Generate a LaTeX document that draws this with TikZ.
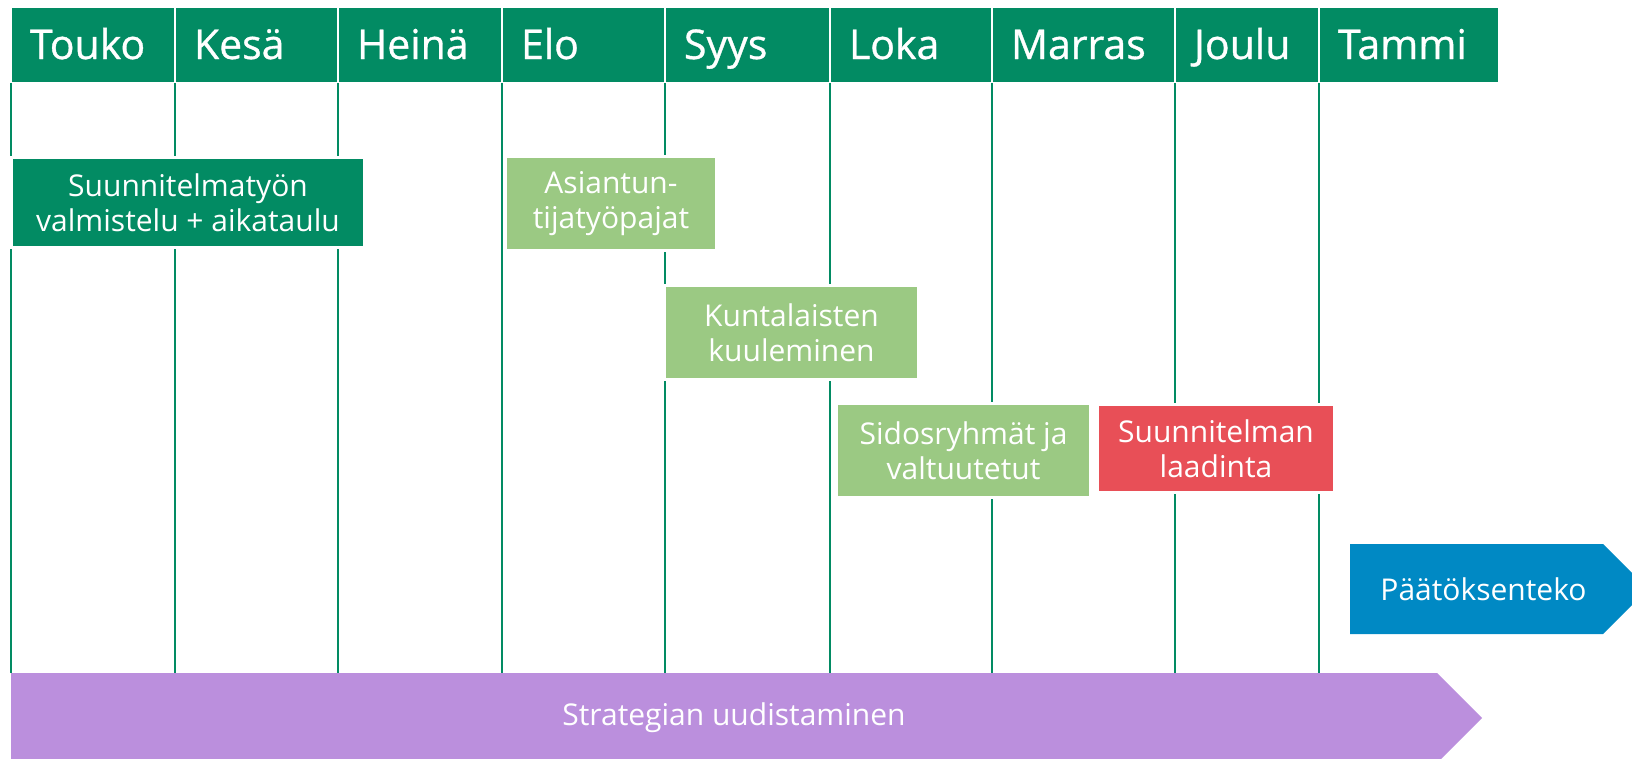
\documentclass[tikz,border=0pt]{standalone}
\usepackage{fontspec}
\setmainfont{Open Sans}
\newfontfamily\headfont{Open Sans}[FakeBold=0.8]
\usepackage{tikz}
\usetikzlibrary{positioning}
\usetikzlibrary{shapes.symbols}
\definecolor{headgreen}{RGB}{2,139,99}
\definecolor{lightgreen}{RGB}{155,201,131}
\definecolor{draftred}{RGB}{232,79,87}
\definecolor{decisionblue}{RGB}{0,137,196}
\definecolor{strategypurple}{RGB}{187,143,221}
\tikzstyle{month} = [rectangle, anchor=north west, fill=headgreen, draw=white, line width=2pt, outer sep=0pt, inner xsep=19pt, inner ysep=20pt, text=white, align=left, font=\headfont\fontsize{41}{48}\selectfont, text height=32pt, text depth=4pt]
\tikzstyle{task} = [rectangle, draw=white, line width=3pt, outer sep=0pt, inner sep=0pt, text=white, align=center, font=\fontsize{30}{35}\selectfont]
\tikzstyle{phasearrow} = [signal, signal to=east, signal pointer angle=90, anchor=west, outer sep=0pt, inner sep=0pt, minimum height=90pt, text=white, font=\fontsize{30}{35}\selectfont]
\tikzstyle{gridline} = [draw=headgreen, line width=2pt]

\begin{document}
\begin{tikzpicture}[x=1pt,y=-1pt]
\useasboundingbox (0,0) rectangle (1632,758);
% month header
\node[month, text width=126pt] (touko) at (11,7) {Touko};
\node[month, text width=125pt, right=0pt of touko] (kesa) {Kesä};
\node[month, text width=126pt, right=0pt of kesa] (heina) {Heinä};
\node[month, text width=125pt, right=0pt of heina] (elo) {Elo};
\node[month, text width=127pt, right=0pt of elo] (syys) {Syys};
\node[month, text width=124pt, right=0pt of syys] (loka) {Loka};
\node[month, text width=145pt, right=0pt of loka] (marras) {Marras};
\node[month, text width=106pt, right=0pt of marras] (joulu) {Joulu};
\node[month, text width=142pt, right=0pt of joulu] (tammi) {Tammi};
% long phases
\node[phasearrow, fill=strategypurple, minimum width=1471pt] (bar) at (11,718) {\hspace*{20pt}Strategian uudistaminen};
\node[phasearrow, fill=decisionblue, minimum width=298pt] (decision) at (1350,589) {\hspace*{14pt}Päätöksenteko};
% month lines
\draw[gridline] (touko.south west) -- (touko.south west |- bar.north);
\draw[gridline] (kesa.south west) -- (kesa.south west |- bar.north);
\draw[gridline] (heina.south west) -- (heina.south west |- bar.north);
\draw[gridline] (elo.south west) -- (elo.south west |- bar.north);
\draw[gridline] (syys.south west) -- (syys.south west |- bar.north);
\draw[gridline] (loka.south west) -- (loka.south west |- bar.north);
\draw[gridline] (marras.south west) -- (marras.south west |- bar.north);
\draw[gridline] (joulu.south west) -- (joulu.south west |- bar.north);
\draw[gridline] (tammi.south west) -- (tammi.south west |- bar.north);
% tasks
\node[task, fill=headgreen, minimum width=353pt, minimum height=90pt] (plan) at (188,202.5) {Suunnitelmatyön\\valmistelu + aikataulu};
\node[task, fill=lightgreen, minimum width=211pt, minimum height=94pt] (expert) at (611,203.5) {Asiantun-\\tijatyöpajat};
\node[task, fill=lightgreen, minimum width=254pt, minimum height=94pt] (residents) at (791.5,332.5) {Kuntalaisten\\kuuleminen};
\node[task, fill=lightgreen, minimum width=254pt, minimum height=94pt] (stakeholders) at (963.5,450.5) {Sidosryhmät ja\\valtuutetut};
\node[task, fill=draftred, minimum width=237pt, minimum height=88pt] (drafting) at (1216,448.5) {Suunnitelman\\laadinta};
\end{tikzpicture}
\end{document}
